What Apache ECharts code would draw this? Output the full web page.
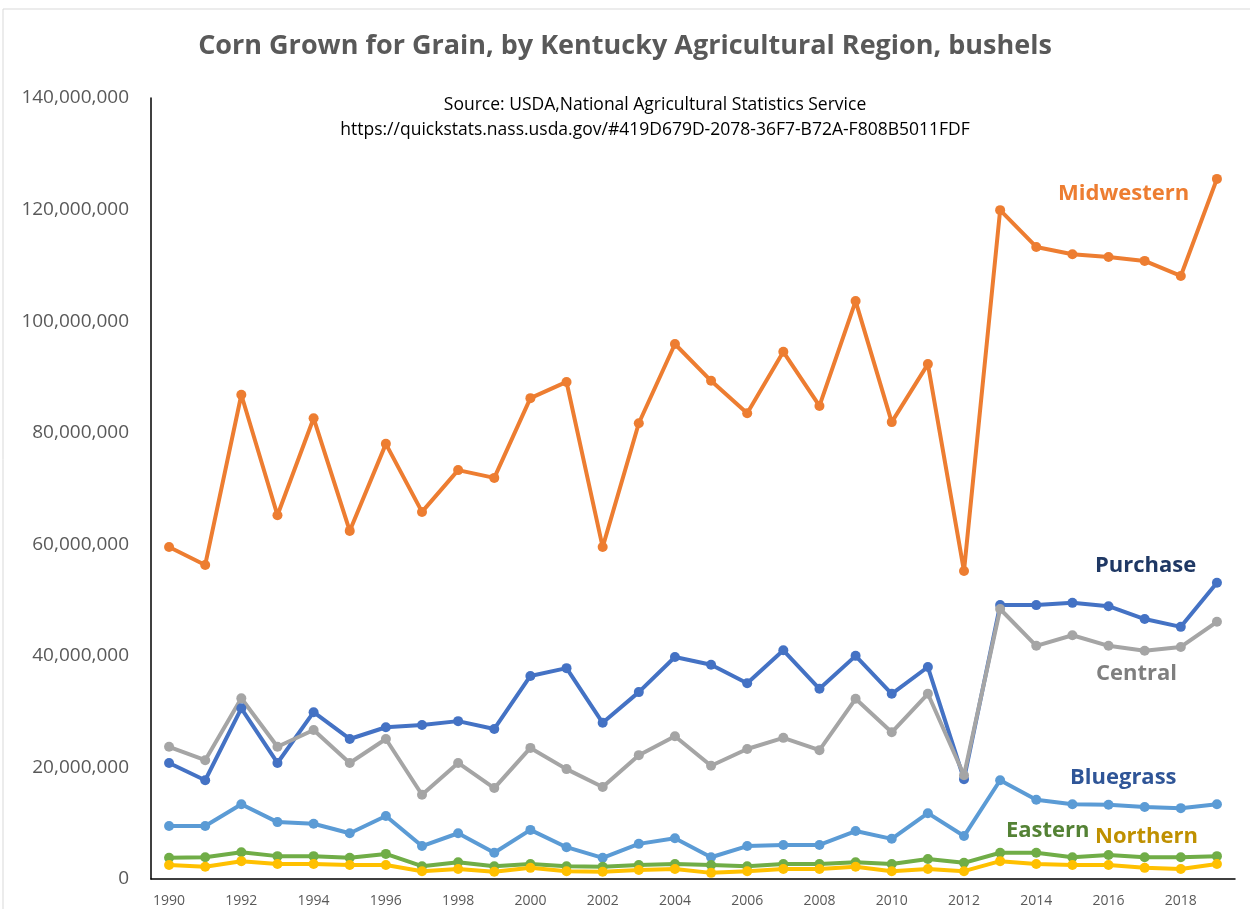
<!DOCTYPE html>
<html><head><meta charset="utf-8">
<script src="https://cdn.jsdelivr.net/npm/echarts@6/dist/echarts.min.js"></script>
<style>html,body{margin:0;padding:0;background:#fff}#c{width:1250px;height:909px}</style>
</head><body><div id="c"></div>
<script>
const years = ['1990','1991','1992','1993','1994','1995','1996','1997','1998','1999','2000','2001','2002','2003','2004','2005','2006','2007','2008','2009','2010','2011','2012','2013','2014','2015','2016','2017','2018','2019'];
const midwestern = [59.5,56.3,86.8,65.2,82.6,62.4,78.0,65.8,73.3,71.9,86.2,89.1,59.5,81.7,95.9,89.3,83.5,94.5,84.8,103.6,81.9,92.3,55.2,119.9,113.3,112.0,111.5,110.8,108.1,125.5];
const purchase = [20.8,17.7,30.6,20.8,29.9,25.1,27.2,27.6,28.3,26.9,36.4,37.8,28.0,33.5,39.8,38.4,35.1,41.0,34.1,40.0,33.2,38.0,17.9,49.1,49.1,49.5,48.9,46.6,45.2,53.1];
const central = [23.7,21.3,32.4,23.7,26.7,20.8,25.1,15.1,20.8,16.3,23.5,19.7,16.5,22.2,25.6,20.3,23.3,25.3,23.1,32.3,26.3,33.2,18.6,48.4,41.8,43.7,41.8,40.9,41.6,46.1];
const bluegrass = [9.5,9.5,13.4,10.2,9.9,8.2,11.3,5.9,8.2,4.7,8.8,5.7,3.8,6.3,7.3,3.9,5.9,6.1,6.1,8.6,7.2,11.8,7.7,17.7,14.2,13.4,13.3,12.9,12.7,13.4];
const eastern = [3.8,3.9,4.8,4.1,4.1,3.8,4.5,2.3,3.0,2.3,2.7,2.3,2.2,2.5,2.7,2.5,2.3,2.7,2.7,3.0,2.7,3.6,2.9,4.7,4.7,3.9,4.3,3.9,3.9,4.1];
const northern = [2.5,2.2,3.2,2.7,2.7,2.5,2.5,1.4,1.8,1.3,2.0,1.4,1.3,1.6,1.8,1.1,1.4,1.8,1.8,2.2,1.4,1.8,1.4,3.2,2.7,2.5,2.5,2.0,1.8,2.7];
const M = 1000000;
const scale = a => a.map(v => Math.round(v * M));

const chart = echarts.init(document.getElementById('c'), null, {renderer:'canvas'});
const mk = (name, data, color) => ({
  name, type:'line', data: scale(data), symbol:'circle', symbolSize:10,
  lineStyle:{width:4,color}, itemStyle:{color}, animation:false
});
const lbl = (text, x, y, color) => ({type:'text', left:x, top:y, style:{text, fill:color, font:'bold 22px "Open Sans", sans-serif'}});
const src = (text, y) => ({type:'text', x:655, y, style:{text, fill:'#000', font:'17.5px "Open Sans", sans-serif', textAlign:'center', textVerticalAlign:'middle'}});
chart.setOption({
  animation:false,
  title:{text:'Corn Grown for Grain, by Kentucky Agricultural Region, bushels', left:'center', top:28,
    textStyle:{fontFamily:'"Open Sans", sans-serif', fontSize:27, fontWeight:'bold', color:'#595959'}},
  grid:{left:151, right:15, top:98, bottom:30, containLabel:false},
  xAxis:{type:'category', data:years, boundaryGap:true,
    axisLine:{lineStyle:{color:'#000', width:1.5}}, axisTick:{show:false},
    axisLabel:{interval:1, color:'#595959', fontSize:14, fontFamily:'"Open Sans", sans-serif', margin:15}},
  yAxis:{type:'value', min:0, max:140*M, interval:20*M,
    axisLine:{show:true, lineStyle:{color:'#000', width:1.5}}, axisTick:{show:false}, splitLine:{show:false},
    axisLabel:{color:'#595959', fontSize:19, fontFamily:'"Open Sans", sans-serif', margin:22,
      formatter:v => v.toLocaleString('en-US')}},
  series:[
    mk('Midwestern', midwestern, '#ED7D31'),
    mk('Purchase', purchase, '#4472C4'),
    mk('Central', central, '#A5A5A5'),
    mk('Bluegrass', bluegrass, '#5B9BD5'),
    mk('Eastern', eastern, '#70AD47'),
    mk('Northern', northern, '#FFC000')
  ],
  graphic:[
    {type:'rect', shape:{x:3, y:9, width:1260, height:920}, style:{fill:null, stroke:'#D9D9D9', lineWidth:1}, silent:true},
    src('Source: USDA,National Agricultural Statistics Service', 105),
    src('https://quickstats.nass.usda.gov/#419D679D-2078-36F7-B72A-F808B5011FDF', 130),
    lbl('Midwestern', 1058, 183, '#ED7D31'),
    lbl('Purchase', 1095, 555, '#1F3864'),
    lbl('Central', 1096, 663, '#7F7F7F'),
    lbl('Bluegrass', 1070, 767, '#2F5597'),
    lbl('Eastern', 1006, 820, '#548235'),
    lbl('Northern', 1095, 826, '#BF9000')
  ]
});
</script></body></html>
